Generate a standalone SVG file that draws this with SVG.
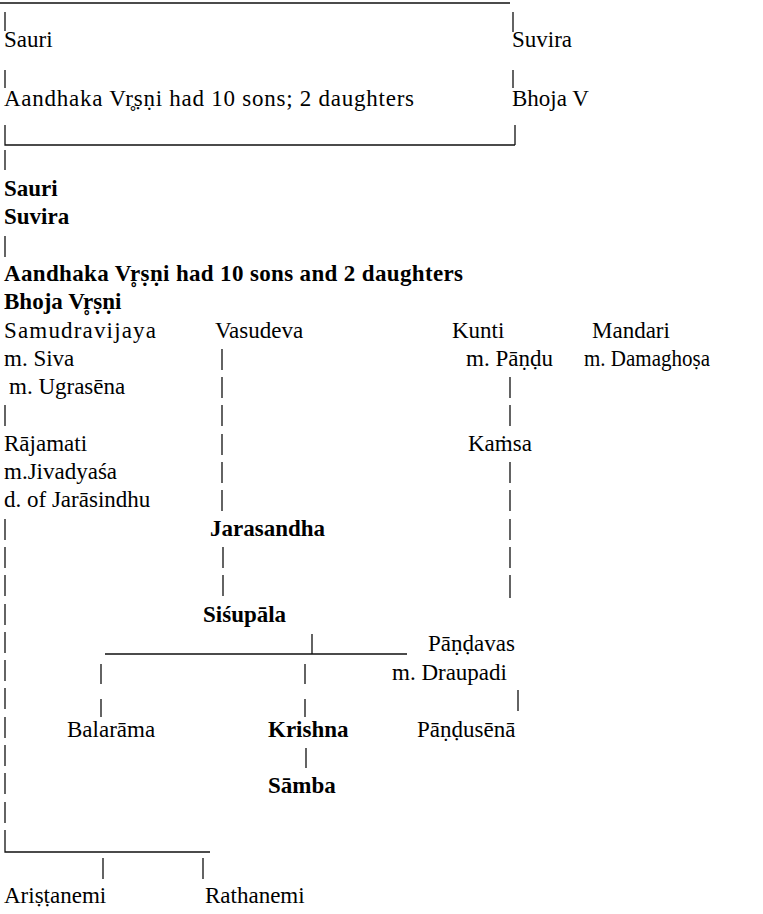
<svg xmlns="http://www.w3.org/2000/svg" width="763" height="914" viewBox="0 0 763 914">
<style>
.t{font-family:"Liberation Serif","Times New Roman",serif;font-size:23px;fill:#000}
.b{font-weight:bold}
.ln{stroke:#111;stroke-width:1.3;fill:none}
</style>
<rect width="763" height="914" fill="#fff"/>
<g id="connectors" class="ln">
<path d="M0 3H510M5 12V31M513 12V32M5 70V88M513 70V88M5 125V145H515M515 125V145M5 150V170"/>
<path d="M5 236V257M5 405V426"/>
<path d="M5 519V540M5 547V568M5 575V596M5 604V625M5 632V653M5 660V681M5 688V709M5 717V738M5 745V766M5 773V794M5 802V823M5 830V852H210M103 858V879M203 858V879"/>
<path d="M222 349V370M222 377V398M222 405V426M222 434V455M222 462V483M222 490V511M223 547V568M223 575V596"/>
<path d="M510 377V398M510 405V426M510 462V483M510 490V511M510 519V540M510 547V568M510 575V598"/>
<path d="M105 654H407M312 634V654M101 664V684M101 699V717M305 664V684M305 699V717M518 690V711M306 748V768"/>
</g>
<g id="box-sauri"><text class="t" x="4" y="47">Sauri</text></g>
<g id="box-suvira"><text class="t" x="512" y="47">Suvira</text></g>
<g id="box-aandhaka"><text class="t" x="4" y="106" textLength="410">Aandhaka Vr̥ṣṇi had 10 sons; 2 daughters</text></g>
<g id="box-bhoja"><text class="t" x="512" y="106">Bhoja V</text></g>
<g id="sauri"><text class="t b" x="4" y="196">Sauri</text></g>
<g id="suvira"><text class="t b" x="4" y="224">Suvira</text></g>
<g id="aandhaka"><text class="t b" x="4" y="281" textLength="459">Aandhaka Vr̥ṣṇi had 10 sons and 2 daughters</text></g>
<g id="bhoja"><text class="t b" x="4" y="309">Bhoja Vr̥ṣṇi</text></g>
<g id="samudravijaya"><text class="t" x="4" y="337.5" textLength="152">Samudravijaya</text><text class="t" x="4" y="366">m. Siva</text><text class="t" x="9" y="394">m. Ugrasēna</text></g>
<g id="vasudeva"><text class="t" x="215" y="337.5">Vasudeva</text></g>
<g id="kunti"><text class="t" x="452" y="337.5">Kunti</text><text class="t" x="466" y="366">m. Pāṇḍu</text></g>
<g id="mandari"><text class="t" x="592" y="337.5">Mandari</text><text class="t" x="584" y="366" textLength="126" lengthAdjust="spacingAndGlyphs">m. Damaghoṣa</text></g>
<g id="rajamati"><text class="t" x="4" y="451">Rājamati</text><text class="t" x="4" y="479">m.Jivadyaśa</text><text class="t" x="4" y="507">d. of Jarāsindhu</text></g>
<g id="kamsa"><text class="t" x="468" y="451">Kaṁsa</text></g>
<g id="jarasandha"><text class="t b" x="210" y="536">Jarasandha</text></g>
<g id="sisupala"><text class="t b" x="203" y="622">Siśupāla</text></g>
<g id="pandavas"><text class="t" x="428" y="651">Pāṇḍavas</text><text class="t" x="392" y="680">m. Draupadi</text></g>
<g id="balarama"><text class="t" x="67" y="737">Balarāma</text></g>
<g id="krishna"><text class="t b" x="268" y="737">Krishna</text></g>
<g id="pandusena"><text class="t" x="417" y="737">Pāṇḍusēnā</text></g>
<g id="samba"><text class="t b" x="268" y="793">Sāmba</text></g>
<g id="aristanemi"><text class="t" x="4" y="903">Ariṣṭanemi</text></g>
<g id="rathanemi"><text class="t" x="205" y="903">Rathanemi</text></g>
</svg>
